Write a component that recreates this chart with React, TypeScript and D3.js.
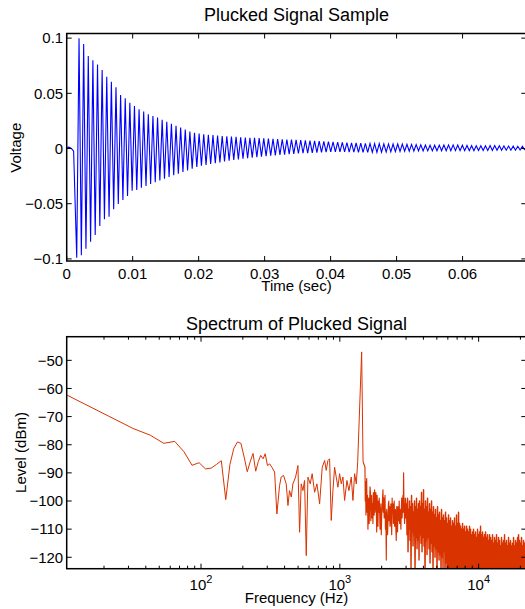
import React from "react";
import * as d3 from "d3";

// ---------- Top plot data: plucked signal ----------
const timeDomain = [0, 0.06966];
const voltDomain = [-0.1019, 0.1042];
const timeTicks = [0, 0.01, 0.02, 0.03, 0.04, 0.05, 0.06];
const timeTickLabels = ["0", "0.01", "0.02", "0.03", "0.04", "0.05", "0.06"];
const voltTicks = [-0.1, -0.05, 0, 0.05, 0.1];
const voltTickLabels = ["\u22120.1", "\u22120.05", "0", "0.05", "0.1"];

const onsetTimes = [0, 0.0002, 0.0005, 0.0008, 0.00105];
const onsetValues = [0, 0.0012, 0.001, -0.0005, -0.0025];
const cycleStart = 0.00152; // time of first trough
const cyclePeriod = 0.0007; // ~1430 Hz
const troughValues = [
  -0.0989, -0.0967, -0.0907, -0.0844, -0.0783, -0.0702, -0.0641, -0.0618, -0.0551, -0.0503,
  -0.0466, -0.043, -0.0382, -0.0376, -0.0355, -0.034, -0.0322, -0.0305, -0.0289, -0.0273,
  -0.0258, -0.0243, -0.0228, -0.0213, -0.0198, -0.0182, -0.0166, -0.0156, -0.0148, -0.014,
  -0.0133, -0.0126, -0.0117, -0.011, -0.0104, -0.0098, -0.0093, -0.0088, -0.0083, -0.0078,
  -0.0073, -0.0069, -0.0065, -0.0062, -0.0058, -0.0055, -0.0051, -0.0048, -0.0045, -0.0043,
  -0.0041, -0.0039, -0.0037, -0.0035, -0.0033, -0.0031, -0.003, -0.003, -0.0031, -0.0032,
  -0.0033, -0.0034, -0.0035, -0.0035, -0.0035, -0.0034, -0.0033, -0.0032, -0.003, -0.0028,
  -0.0026, -0.0025, -0.0024, -0.0023, -0.0022, -0.0022, -0.0021, -0.0021, -0.002, -0.002,
  -0.002, -0.002, -0.0019, -0.0019, -0.0019, -0.0019, -0.0019, -0.0018, -0.0018, -0.0017,
  -0.0017, -0.0016, -0.0016, -0.0015, -0.0015, -0.0015, -0.0014, -0.0014,
];
const peakValues = [
  0.1, 0.0947, 0.0838, 0.08, 0.0762, 0.0711, 0.065, 0.0605, 0.0554, 0.0485,
  0.0455, 0.0415, 0.0385, 0.0355, 0.0335, 0.031, 0.0295, 0.028, 0.026, 0.0243,
  0.0225, 0.0207, 0.019, 0.0172, 0.0155, 0.0142, 0.0136, 0.013, 0.0125, 0.0121,
  0.0117, 0.0114, 0.0111, 0.0108, 0.0105, 0.0102, 0.01, 0.0098, 0.0096, 0.0094,
  0.0092, 0.009, 0.0088, 0.0086, 0.0084, 0.0082, 0.008, 0.0078, 0.0077, 0.0074,
  0.0071, 0.0069, 0.0066, 0.0064, 0.0062, 0.006, 0.0058, 0.0056, 0.0054, 0.0052,
  0.005, 0.0049, 0.0047, 0.0046, 0.0045, 0.0044, 0.0043, 0.0042, 0.0041, 0.0041,
  0.004, 0.0039, 0.0037, 0.0035, 0.0033, 0.0031, 0.003, 0.003, 0.0031, 0.0032,
  0.0033, 0.0033, 0.0032, 0.003, 0.0028, 0.0026, 0.0025, 0.0025, 0.0026, 0.0027,
  0.0027, 0.0026, 0.0024, 0.0022, 0.0021, 0.002, 0.002,
];

// ---------- Bottom plot data: spectrum ----------
const freqDomain = [10.77, 22050];
const levelDomain = [-124.06, -41.6];
const freqDecades = [100, 1000, 10000];
const freqDecadeExp = ["2", "3", "4"];
const freqMinorTicks = [20, 30, 40, 50, 60, 70, 80, 90, 200, 300, 400, 500, 600, 700, 800, 900,
  2000, 3000, 4000, 5000, 6000, 7000, 8000, 9000, 20000];
const levelTicks = [-120, -110, -100, -90, -80, -70, -60, -50];

// low / mid frequency part (individual bins and visible vertices)
const specFreqs = [
  10.77, 21.53, 32.3, 43.07, 53.83, 64.6, 75.37, 86.13, 96.9, 107.7,
  118.4, 129.2, 140, 150.7, 161.5, 172.3, 183.1, 193.8, 204.6, 215.3,
  226.1, 236.9, 247.7, 258.4, 269, 280, 290, 301, 312, 324,
  339, 352, 368, 378, 393, 411, 423, 434, 447, 459,
  480, 499, 513, 527, 542, 557, 573, 589, 612, 632,
  658, 684, 715, 747, 777, 798, 821, 844, 867, 892,
  917, 942, 969, 996, 1024, 1053, 1082, 1125, 1163, 1209,
  1243, 1278, 1314, 1345, 1436, 1470,
];
const specLevels = [
  -62.3, -69.8, -74.2, -76.6, -79.5, -78.8, -82.5, -87.3, -86.4, -88.6,
  -88.3, -87.0, -85.7, -99.5, -87.0, -81.3, -79.0, -79.5, -84.4, -89.6,
  -86.0, -83.1, -89.4, -86.0, -83.8, -85.0, -83.2, -87.4, -86.8, -88.0,
  -89.7, -104.6, -94.5, -91.5, -90.9, -93.9, -101.6, -96.3, -98.6, -93.9,
  -91.5, -87.4, -111.1, -93.9, -96.3, -92.7, -119.4, -91.5, -93.9, -90.3,
  -96.9, -93.9, -101.0, -88.0, -85.6, -89.1, -85.6, -85.0, -106.9, -96.3,
  -88.0, -91.5, -95.1, -90.3, -93.9, -91.5, -99.8, -92.7, -96.3, -91.5,
  -99.8, -90.3, -93.9, -86.0, -47.0, -86.0,
];

// above the peak: denser, noisier vertices
const upperFreqs = [
  1517, 1525, 1534, 1542, 1551, 1561, 1572, 1583, 1594, 1605,
  1616, 1627, 1639, 1650, 1662, 1673, 1685, 1696, 1708, 1720,
  1732, 1744, 1756, 1768, 1781, 1793, 1806, 1818, 1831, 1843,
  1856, 1869, 1882, 1895, 1908, 1921, 1935, 1948, 1962, 1975,
  1989, 2003, 2017, 2031, 2045, 2059, 2073, 2087, 2102, 2116,
  2131, 2146, 2161, 2176, 2191, 2206, 2222, 2237, 2253, 2268,
  2284, 2300, 2316, 2332, 2348, 2364, 2381, 2397, 2414, 2431,
  2448, 2465, 2482, 2499, 2516, 2533, 2551, 2569, 2587, 2605,
  2623, 2641, 2659, 2677, 2696, 2715, 2734, 2753, 2772, 2791,
  2811, 2830, 2850, 2865, 2880, 2895, 2910, 2928, 2946, 2963,
  2980, 2996, 3012,
];
const upperLevels = [
  -88, -100, -93, -105, -96, -92, -104, -98, -110, -102,
  -99, -108, -102, -95, -97, -107, -100, -98, -106, -101,
  -108, -97, -100, -105, -96, -104, -101, -97, -102, -111,
  -98, -104, -109, -100, -104, -99, -103, -110, -107, -101,
  -112, -105, -103, -99, -96, -104, -99, -106, -102, -98,
  -110, -104, -121, -103, -106, -112, -108, -101, -100, -107,
  -102, -109, -107, -101, -106, -112, -99, -104, -101, -108,
  -105, -100, -109, -104, -103, -110, -114, -102, -106, -111,
  -102, -106, -107, -100, -108, -103, -104, -110, -103, -99,
  -106, -101, -98, -104, -90, -100, -103, -108, -105, -99,
  -100, -106, -101,
];

// dense noise band, read per pixel column (top and bottom of the band)
const bandStartFreq = 3024;
const bandEndFreq = 21420;
const bandTop = [
  -101, -99, -103, -100, -102, -98, -101, -104, -100, -102,
  -99, -103, -101, -100, -102, -97, -101, -96, -103, -100,
  -102, -99, -104, -101, -103, -100, -104, -102, -105, -103,
  -106, -102, -105, -104, -107, -103, -106, -105, -107, -104,
  -106, -108, -105, -107, -106, -109, -107, -108, -106, -109,
  -105, -108, -104, -108, -109, -110, -108, -110, -109, -111,
  -109, -110, -111, -109, -110, -112, -111, -110, -112, -111,
  -113, -110, -112, -111, -109, -112, -111, -113, -112, -111,
  -113, -112, -114, -112, -113, -114, -112, -115, -113, -114,
  -112, -115, -113, -114, -116, -113, -115, -114, -112, -115,
  -114, -116, -113, -115, -114, -116, -115, -113, -116, -114,
  -115, -113, -112, -114, -115, -113, -116, -114, -115,
];
const bandBottom = [
  -112, -118, -110, -114, -124, -111, -116, -112, -125, -113,
  -117, -114, -121, -112, -115, -118, -113, -116, -126, -114,
  -119, -113, -117, -122, -115, -118, -125, -116, -120, -117,
  -126, -118, -121, -119, -126, -120, -124, -118, -127, -122,
  -126, -128, -125, -128, -126, -128, -127, -128, -126, -128,
  -127, -128, -126, -128, -127, -128, -126, -128, -127, -128,
  -126, -128, -127, -128, -126, -128, -127, -128, -126, -128,
  -127, -128, -126, -128, -127, -128, -126, -128, -127, -128,
  -126, -128, -127, -128, -126, -128, -127, -128, -126, -128,
  -127, -128, -126, -128, -127, -128, -126, -128, -127, -128,
  -126, -128, -127, -128, -126, -128, -127, -128, -126, -128,
  -127, -128, -126, -128, -127, -128, -126, -128, -127,
];

const FONT = "'Liberation Sans', Arial, Helvetica, sans-serif";
const BLUE = "#0000ff";
const RED = "#d93300";

export default function App() {
  const L = 66.7, R = 526.3;
  const T1 = 33.5, B1 = 261;
  const T2 = 336.7, B2 = 568.7;
  const TICK = 5, MINOR = 3;

  const tx = d3.scaleLinear().domain(timeDomain).range([L, R]);
  const ty = d3.scaleLinear().domain(voltDomain).range([B1, T1]);
  const fx = d3.scaleLog().domain(freqDomain).range([L, R]);
  const ly = d3.scaleLinear().domain(levelDomain).range([B2, T2]);

  // signal points
  const sig: [number, number][] = onsetTimes.map((t, i) => [t, onsetValues[i]]);
  troughValues.forEach((v, k) => {
    sig.push([cycleStart + k * cyclePeriod, v]);
    if (k < peakValues.length) sig.push([cycleStart + cyclePeriod / 2 + k * cyclePeriod, peakValues[k]]);
  });
  const sigPath = d3.line<[number, number]>().x((d) => tx(d[0])).y((d) => ty(d[1]))(sig) || "";

  const specLine = d3.line<[number, number]>().x((d) => fx(d[0])).y((d) => ly(d[1]));
  const low: [number, number][] = specFreqs.map((f, i) => [f, specLevels[i]]);
  const mid: [number, number][] = [low[low.length - 1], ...upperFreqs.map((f, i) => [f, upperLevels[i]] as [number, number])];
  const band: [number, number][] = [mid[mid.length - 1]];
  const n = bandTop.length;
  const ratio = bandEndFreq / bandStartFreq;
  for (let i = 0; i < n; i++) {
    const f0 = bandStartFreq * Math.pow(ratio, i / (n - 1));
    const f1 = bandStartFreq * Math.pow(ratio, (i + 0.5) / (n - 1));
    band.push([f0, bandTop[i]]);
    band.push([f1, bandBottom[i]]);
  }

  const axisStroke = { stroke: "#000", strokeWidth: 1.5, fill: "none" } as const;

  return (
    <svg width={525} height={609} style={{ position: "absolute", left: 0, top: 0, background: "#fff" }}
      fontFamily={FONT}>
      <defs>
        <clipPath id="clipTop"><rect x={L} y={T1} width={R - L} height={B1 - T1} /></clipPath>
        <clipPath id="clipBot"><rect x={L} y={T2} width={R - L} height={B2 - T2} /></clipPath>
      </defs>
      <rect x={0} y={0} width={525} height={609} fill="#fff" />

      {/* ---------- Top plot ---------- */}
      <text x={(L + R) / 2} y={20.5} fontSize={18} textAnchor="middle">Plucked Signal Sample</text>
      <path d={sigPath} fill="none" stroke={BLUE} strokeWidth={1.1} clipPath="url(#clipTop)" />
      <rect x={L} y={T1} width={R - L} height={B1 - T1} {...axisStroke} />
      {timeTicks.map((t, i) => (
        <g key={"tt" + i}>
          <line x1={tx(t)} x2={tx(t)} y1={B1} y2={B1 - TICK} stroke="#000" />
          <line x1={tx(t)} x2={tx(t)} y1={T1} y2={T1 + TICK} stroke="#000" />
          <text x={tx(t)} y={B1 + 18} fontSize={15} textAnchor="middle">{timeTickLabels[i]}</text>
        </g>
      ))}
      {voltTicks.map((v, i) => (
        <g key={"vt" + i}>
          <line x1={L} x2={L + TICK} y1={ty(v)} y2={ty(v)} stroke="#000" />
          <line x1={R} x2={R - TICK} y1={ty(v)} y2={ty(v)} stroke="#000" />
          <text x={L - 3.5} y={ty(v) + 5.3} fontSize={15} textAnchor="end">{voltTickLabels[i]}</text>
        </g>
      ))}
      <text x={(L + R) / 2} y={291} fontSize={15} textAnchor="middle">Time (sec)</text>
      <text transform={`translate(20.5, ${(T1 + B1) / 2 + 0.5}) rotate(-90)`} fontSize={15} textAnchor="middle">Voltage</text>

      {/* ---------- Bottom plot ---------- */}
      <text x={(L + R) / 2} y={329.5} fontSize={18} textAnchor="middle">Spectrum of Plucked Signal</text>
      <g clipPath="url(#clipBot)" fill="none" stroke={RED} strokeLinejoin="round">
        <path d={specLine(low) || ""} strokeWidth={1} />
        <path d={specLine(mid) || ""} strokeWidth={1.15} />
        <path d={specLine(band) || ""} strokeWidth={1.45} />
      </g>
      <rect x={L} y={T2} width={R - L} height={B2 - T2} {...axisStroke} />
      {freqDecades.map((f, i) => (
        <g key={"fd" + i}>
          <line x1={fx(f)} x2={fx(f)} y1={B2} y2={B2 - TICK} stroke="#000" />
          <line x1={fx(f)} x2={fx(f)} y1={T2} y2={T2 + TICK} stroke="#000" />
          <text x={fx(f)} y={590} fontSize={15} textAnchor="middle">
            10<tspan fontSize={11} dy={-7}>{freqDecadeExp[i]}</tspan>
          </text>
        </g>
      ))}
      {freqMinorTicks.map((f, i) => (
        <g key={"fm" + i}>
          <line x1={fx(f)} x2={fx(f)} y1={B2} y2={B2 - MINOR} stroke="#000" />
          <line x1={fx(f)} x2={fx(f)} y1={T2} y2={T2 + MINOR} stroke="#000" />
        </g>
      ))}
      {levelTicks.map((v, i) => (
        <g key={"lt" + i}>
          <line x1={L} x2={L + TICK} y1={ly(v)} y2={ly(v)} stroke="#000" />
          <line x1={R} x2={R - TICK} y1={ly(v)} y2={ly(v)} stroke="#000" />
          <text x={L - 3.5} y={ly(v) + 5.3} fontSize={15} textAnchor="end">{"\u2212" + Math.abs(v)}</text>
        </g>
      ))}
      <text x={(L + R) / 2} y={603} fontSize={15} textAnchor="middle">Frequency (Hz)</text>
      <text transform={`translate(25.5, 452.5) rotate(-90)`} fontSize={15} textAnchor="middle">Level (dBm)</text>
    </svg>
  );
}
